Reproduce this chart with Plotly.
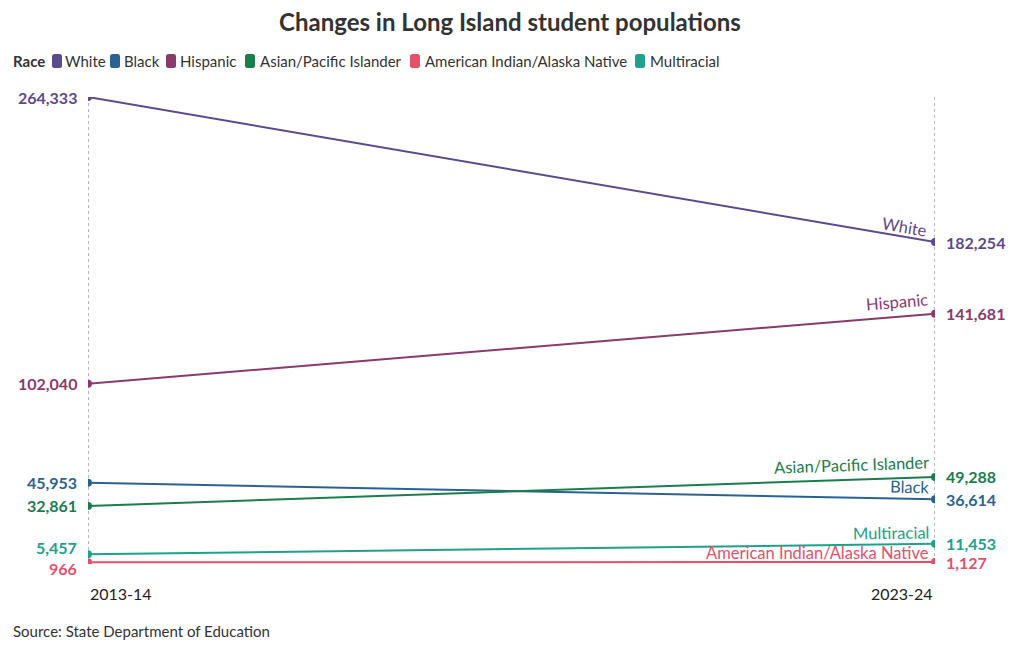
import plotly.graph_objects as go
import math

years = ["2013-14", "2023-24"]
races = ["White", "Black", "Hispanic", "Asian/Pacific Islander",
         "American Indian/Alaska Native", "Multiracial"]
v2013 = [264333, 45953, 102040, 32861, 966, 5457]
v2023 = [182254, 36614, 141681, 49288, 1127, 11453]
colors = ["#5c4a8e", "#2a6294", "#8b3a6e", "#1b7d4c", "#e5506b", "#21a08b"]

FONT = "Lato"
OFF = 8  # page body margin
W, H = 1020 - 2 * OFF, 650 - 2 * OFF
# reference-pixel geometry of the plot area
RX0, RX1, RY0, RY1 = 88, 935, 97, 563.7
ML, MR = RX0 - OFF, W - (RX1 - OFF)
MT, MB = RY0 - OFF, H - (RY1 - OFF)
plot_w = RX1 - RX0
plot_h = RY1 - RY0
YMAX = 264333


def px(xr):
    return (xr - RX0) / plot_w


def py(yr):
    return (RY1 - yr) / plot_h


fig = go.Figure()
xs = [0, 1]

for r, a, b, c in zip(races, v2013, v2023, colors):
    fig.add_trace(go.Scatter(x=xs, y=[a, b], mode="lines+markers",
                             line=dict(color=c, width=2),
                             marker=dict(color=c, size=8),
                             showlegend=False, hoverinfo="skip"))

annotations = []
shapes = []
# vertical dotted lines
for x in xs:
    shapes.append(dict(type="line", xref="x", yref="y", x0=x, x1=x,
                       y0=YMAX, y1=-YMAX * 0.03,
                       line=dict(color="#888", width=1.2, dash="dot"), layer="below"))

left_shift = {"Multiracial": 7, "American Indian/Alaska Native": -6}
name_shift = {"White": -1, "Black": 0, "Hispanic": -3, "Asian/Pacific Islander": -3,
              "American Indian/Alaska Native": -3, "Multiracial": -2}
for r, a, b, c in zip(races, v2013, v2023, colors):
    ys = left_shift.get(r, 0)
    annotations.append(dict(x=0, y=a, xref="x", yref="y", text=f"<b>{a:,}</b>",
                            showarrow=False, xanchor="right", yanchor="middle",
                            xshift=-9, yshift=ys,
                            font=dict(family=FONT, size=16, color=c)))
    annotations.append(dict(x=1, y=b, xref="x", yref="y", text=f"<b>{b:,}</b>",
                            showarrow=False, xanchor="left", yanchor="middle",
                            xshift=9, font=dict(family=FONT, size=16, color=c)))
    # leader lines
    shapes.append(dict(type="line", xref="x", yref="y", xsizemode="pixel",
                       ysizemode="pixel", xanchor=0, yanchor=a,
                       x0=-8, x1=-4, y0=ys, y1=ys * 0.3,
                       line=dict(color="#999", width=1)))
    shapes.append(dict(type="line", xref="x", yref="y", xsizemode="pixel",
                       xanchor=1, x0=4, x1=8, y0=b, y1=b,
                       line=dict(color="#999", width=1)))
    # series name labels
    ang = math.degrees(math.atan((a - b) / YMAX * plot_h / plot_w))
    annotations.append(dict(x=1, y=b, xref="x", yref="y", text=r,
                            showarrow=False, xanchor="right", yanchor="bottom",
                            xshift=-4, yshift=name_shift[r],
                            textangle=ang,
                            font=dict(family=FONT, size=16.5, color=c)))

# x labels
annotations.append(dict(x=0, y=0, xref="x", yref="paper", text="2013-14",
                        showarrow=False, xanchor="left", yanchor="middle", yshift=-29,
                        font=dict(family=FONT, size=16, color="#222")))
annotations.append(dict(x=1, y=0, xref="x", yref="paper", text="2023-24",
                        showarrow=False, xanchor="right", yanchor="middle", yshift=-29,
                        font=dict(family=FONT, size=16, color="#222")))
annotations.append(dict(x=px(11), y=py(631), xref="paper", yref="paper",
                        text="Source: State Department of Education", showarrow=False,
                        xanchor="left", yanchor="middle",
                        font=dict(family=FONT, size=15, color="#333")))

# custom legend (reference pixel positions)
LEG_Y = 61
annotations.append(dict(x=px(11), y=py(LEG_Y), xref="paper", yref="paper",
                        text="<b>Race</b>", showarrow=False, xanchor="left",
                        yanchor="middle", font=dict(family=FONT, size=15, color="#333")))
sq_x = [52, 110, 166, 245, 410, 635]
tx_x = [63, 122, 178, 258, 423, 648]
for r, c, sx, tx in zip(races, colors, sq_x, tx_x):
    x0, x1, y0, y1, rr = sx, sx + 10, LEG_Y - 7, LEG_Y + 7, 2.5
    path = (f"M {px(x0 + rr)},{py(y0)} L {px(x1 - rr)},{py(y0)} "
            f"Q {px(x1)},{py(y0)} {px(x1)},{py(y0 + rr)} "
            f"L {px(x1)},{py(y1 - rr)} Q {px(x1)},{py(y1)} {px(x1 - rr)},{py(y1)} "
            f"L {px(x0 + rr)},{py(y1)} Q {px(x0)},{py(y1)} {px(x0)},{py(y1 - rr)} "
            f"L {px(x0)},{py(y0 + rr)} Q {px(x0)},{py(y0)} {px(x0 + rr)},{py(y0)} Z")
    shapes.append(dict(type="path", xref="paper", yref="paper", path=path,
                       fillcolor=c, line=dict(width=0)))
    annotations.append(dict(x=px(tx), y=py(LEG_Y), xref="paper", yref="paper",
                            text=r, showarrow=False, xanchor="left", yanchor="middle",
                            font=dict(family=FONT, size=15, color="#333")))

fig.update_layout(
    width=W, height=H,
    margin=dict(l=ML, r=MR, t=MT, b=MB, pad=0),
    paper_bgcolor="white", plot_bgcolor="white",
    showlegend=False,
    title=dict(text="<b>Changes in Long Island student populations</b>",
               x=0.5, xanchor="center", y=1 - (23 - OFF) / H, yanchor="middle",
               font=dict(family=FONT, size=24, color="#333")),
    xaxis=dict(range=[0, 1], visible=False, fixedrange=True),
    yaxis=dict(range=[0, YMAX], visible=False, fixedrange=True),
    shapes=shapes, annotations=annotations,
    font=dict(family=FONT),
)

fig.write_html("out.html")
